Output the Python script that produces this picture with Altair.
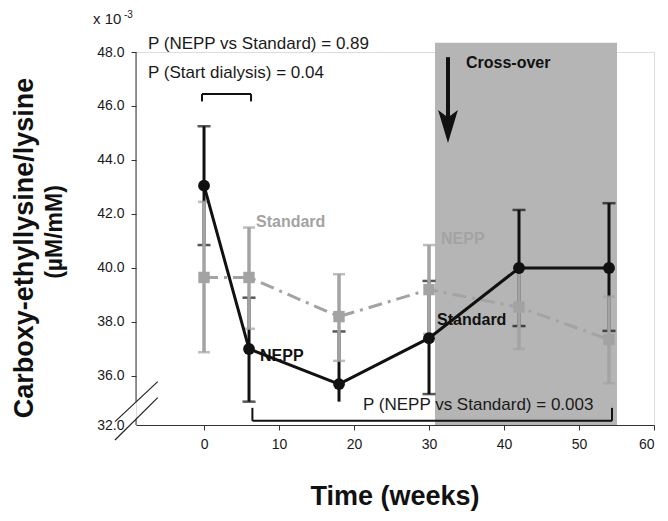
import altair as alt
import pandas as pd

# ---------------- data ----------------
weeks = [0, 6, 18, 30, 42, 54]
nepp_mean = [43.05, 37.00, 35.70, 37.40, 40.00, 40.00]
nepp_upper = [45.25, 38.90, 37.65, 39.52, 42.15, 42.40]
nepp_lower = [40.85, 35.05, 35.05, 35.33, 37.85, 37.67]
nepp_lower_cap = [True, True, False, True, True, True]
std_mean = [39.65, 39.65, 38.20, 39.20, 38.55, 37.35]
std_upper = [42.45, 41.50, 39.77, 40.85, 40.00, 38.94]
std_lower = [36.88, 37.75, 36.56, 37.56, 37.00, 35.73]

x_ticks = [0, 10, 20, 30, 40, 50, 60]
y_ticks = [34.185, 36, 38, 40, 42, 44, 46, 48]  # lowest tick = broken-axis "32.0"
X_MIN, X_MAX = -9.07, 60
Y_MIN, Y_MAX = 34.185, 48.0
crossover_x = [30.8, 55.07]
crossover_top = 48.34

BLACK = "#111111"
GRAY = "#a3a3a3"
SHADE = "#b5b5b5"
FONT = "Liberation Sans"

# ---------------- shared encodings ----------------
xscale = alt.Scale(domain=[X_MIN, X_MAX], nice=False, zero=False)
yscale = alt.Scale(domain=[Y_MIN, Y_MAX], nice=False, zero=False)
xaxis = alt.Axis(values=x_ticks, title=None, grid=False, domain=True,
                 domainColor="#333333", domainWidth=1, tickColor="#333333",
                 tickSize=5, labelFontSize=14, labelColor="#1a1a1a",
                 labelFont=FONT, labelPadding=7, format="d")
yaxis = alt.Axis(values=y_ticks, title=None, grid=False, domain=False,
                 tickColor="#333333", tickSize=5,
                 tickOpacity={"condition": {"test": "datum.value < 35", "value": 0}, "value": 1},
                 labelFontSize=14, labelColor="#1a1a1a", labelFont=FONT, labelPadding=7,
                 labelExpr="datum.value < 35 ? '32.0' : format(datum.value, '.1f')")


def X(f="x"):
    return alt.X(f"{f}:Q", scale=xscale, axis=xaxis)


def Y(f="y"):
    return alt.Y(f"{f}:Q", scale=yscale, axis=yaxis)


nepp = pd.DataFrame({"x": weeks, "y": nepp_mean, "lo": nepp_lower, "hi": nepp_upper,
                     "lcap": nepp_lower_cap})
std = pd.DataFrame({"x": weeks, "y": std_mean, "lo": std_lower, "hi": std_upper})

# shaded cross-over period
shade = alt.Chart(pd.DataFrame({"x": [crossover_x[0]], "x2": [crossover_x[1]],
                                "y": [Y_MIN], "y2": [crossover_top]})).mark_rect(
    color=SHADE, clip=False).encode(x=X(), x2="x2:Q", y=Y(), y2="y2:Q")

# y axis line with break
axis_segs = pd.DataFrame({"x": [X_MIN, X_MIN], "y": [Y_MAX, 34.41], "y2": [35.05, Y_MIN]})
yline = alt.Chart(axis_segs).mark_rule(color="#333333", strokeWidth=1, clip=False).encode(
    x=X(), y=Y(), y2="y2:Q")
breaks = pd.DataFrame({"x": [-11.87, -11.87], "x2": [-6.17, -6.17],
                       "y": [34.31, 33.63], "y2": [35.79, 35.20]})
breakmarks = alt.Chart(breaks).mark_rule(color="#222222", strokeWidth=1.2, clip=False).encode(
    x=X(), x2="x2:Q", y=Y(), y2="y2:Q")

# brackets
br_top = pd.DataFrame({"x": [-0.27, -0.27, 6.27], "x2": [6.27, -0.27, 6.27],
                       "y": [46.44, 46.44, 46.44], "y2": [46.44, 46.17, 46.17]})
br_bot = pd.DataFrame({"x": [6.45, 6.45, 54.4], "x2": [54.4, 6.45, 54.4],
                       "y": [34.34, 34.34, 34.34], "y2": [34.34, 34.82, 34.82]})
brackets = alt.Chart(pd.concat([br_top, br_bot])).mark_rule(
    color=BLACK, strokeWidth=2, clip=False).encode(x=X(), x2="x2:Q", y=Y(), y2="y2:Q")

# error bars
n_err = alt.Chart(nepp).mark_rule(color=BLACK, strokeWidth=3).encode(x=X(), y=Y("lo"), y2="hi:Q")
n_cap_hi = alt.Chart(nepp).mark_tick(color=BLACK, orient="horizontal", size=13, thickness=2.5).encode(
    x=X(), y=Y("hi"))
n_cap_lo = alt.Chart(nepp).transform_filter("datum.lcap").mark_tick(
    color=BLACK, orient="horizontal", size=13, thickness=2.5).encode(x=X(), y=Y("lo"))
s_err = alt.Chart(std).mark_rule(color=GRAY, strokeWidth=3.5).encode(x=X(), y=Y("lo"), y2="hi:Q")
s_cap_hi = alt.Chart(std).mark_tick(color=GRAY, orient="horizontal", size=12, thickness=2.5).encode(
    x=X(), y=Y("hi"))
s_cap_lo = alt.Chart(std).mark_tick(color=GRAY, orient="horizontal", size=12, thickness=2.5).encode(
    x=X(), y=Y("lo"))

# lines and markers
s_line = alt.Chart(std).mark_line(color=GRAY, strokeWidth=3, strokeDash=[14, 6, 3, 6]).encode(
    x=X(), y=Y())
s_pts = alt.Chart(std).mark_point(shape="square", filled=True, color=GRAY, size=130, opacity=1).encode(
    x=X(), y=Y())
n_line = alt.Chart(nepp).mark_line(color=BLACK, strokeWidth=3).encode(x=X(), y=Y())
n_pts = alt.Chart(nepp).mark_point(shape="circle", filled=True, color=BLACK, size=140, opacity=1).encode(
    x=X(), y=Y())

# cross-over arrow
arrow_shaft = alt.Chart(pd.DataFrame({"x": [32.53], "y": [47.81], "y2": [45.4]})).mark_rule(
    color=BLACK, strokeWidth=4, clip=False).encode(x=X(), y=Y(), y2="y2:Q")
arrow_head = alt.Chart(pd.DataFrame({"x": [32.53], "y": [45.24]})).mark_point(
    shape="M -0.6 -1 L 0 -0.55 L 0.6 -1 L 0 1 Z", filled=True, color=BLACK, size=1089,
    opacity=1, clip=False).encode(x=X(), y=Y())

# annotations
ann_reg = pd.DataFrame({
    "x": [-7.47, -7.47, 21.2],
    "y": [48.30, 47.22, 34.93],
    "t": ["P (NEPP vs Standard) = 0.89", "P (Start dialysis) = 0.04",
          "P (NEPP vs Standard) = 0.003"]})
t_reg = alt.Chart(ann_reg).mark_text(align="left", baseline="middle", font=FONT, fontSize=17,
                                     color="#1a1a1a", clip=False).encode(x=X(), y=Y(), text="t:N")
ann_bold = pd.DataFrame({
    "x": [34.93, 6.93, 7.47, 31.6, 31.07],
    "y": [47.59, 41.69, 36.75, 41.07, 38.07],
    "t": ["Cross-over", "Standard", "NEPP", "NEPP", "Standard"],
    "c": [BLACK, GRAY, BLACK, GRAY, BLACK]})
t_bold = alt.Chart(ann_bold).mark_text(align="left", baseline="middle", font=FONT, fontSize=16,
                                       fontWeight="bold", clip=False).encode(
    x=X(), y=Y(), text="t:N", color=alt.Color("c:N", scale=None))

# axis titles and multiplier
t_exp = alt.Chart(pd.DataFrame({"t": ["x 10"]})).mark_text(
    align="left", baseline="middle", font=FONT, fontSize=15, color="#1a1a1a").encode(
    x=alt.value(-43), y=alt.value(-33), text="t:N")
t_exp2 = alt.Chart(pd.DataFrame({"t": ["-3"]})).mark_text(
    align="left", baseline="middle", font=FONT, fontSize=10, color="#1a1a1a").encode(
    x=alt.value(-12), y=alt.value(-37), text="t:N")
t_ytitle1 = alt.Chart(pd.DataFrame({"t": ["Carboxy-ethyllysine/lysine"]})).mark_text(
    align="center", baseline="alphabetic", angle=270, font=FONT, fontSize=27, fontWeight="bold",
    color="#111111").encode(x=alt.value(-103), y=alt.value(196), text="t:N")
t_ytitle2 = alt.Chart(pd.DataFrame({"t": ["(µM/mM)"]})).mark_text(
    align="center", baseline="alphabetic", angle=270, font=FONT, fontSize=23, fontWeight="bold",
    color="#111111").encode(x=alt.value(-74), y=alt.value(180), text="t:N")
t_xtitle = alt.Chart(pd.DataFrame({"t": ["Time (weeks)"]})).mark_text(
    align="center", baseline="alphabetic", font=FONT, fontSize=27, fontWeight="bold",
    color="#111111").encode(x=alt.value(259), y=alt.value(453), text="t:N")

chart = alt.layer(
    shade, yline, breakmarks, brackets,
    n_err, n_cap_hi, n_cap_lo,
    s_err, s_cap_hi, s_cap_lo,
    s_line, s_pts, n_line, n_pts,
    arrow_shaft, arrow_head,
    t_reg, t_bold, t_exp, t_exp2, t_ytitle1, t_ytitle2, t_xtitle,
).properties(
    width=518, height=373,
    padding={"left": 128, "top": 44, "right": 6, "bottom": 88},
    autosize=alt.AutoSizeParams(type="none"),
).configure_view(stroke=None).configure(background="white")

chart.save("out.html", embed_options={"renderer": "svg", "actions": False})
